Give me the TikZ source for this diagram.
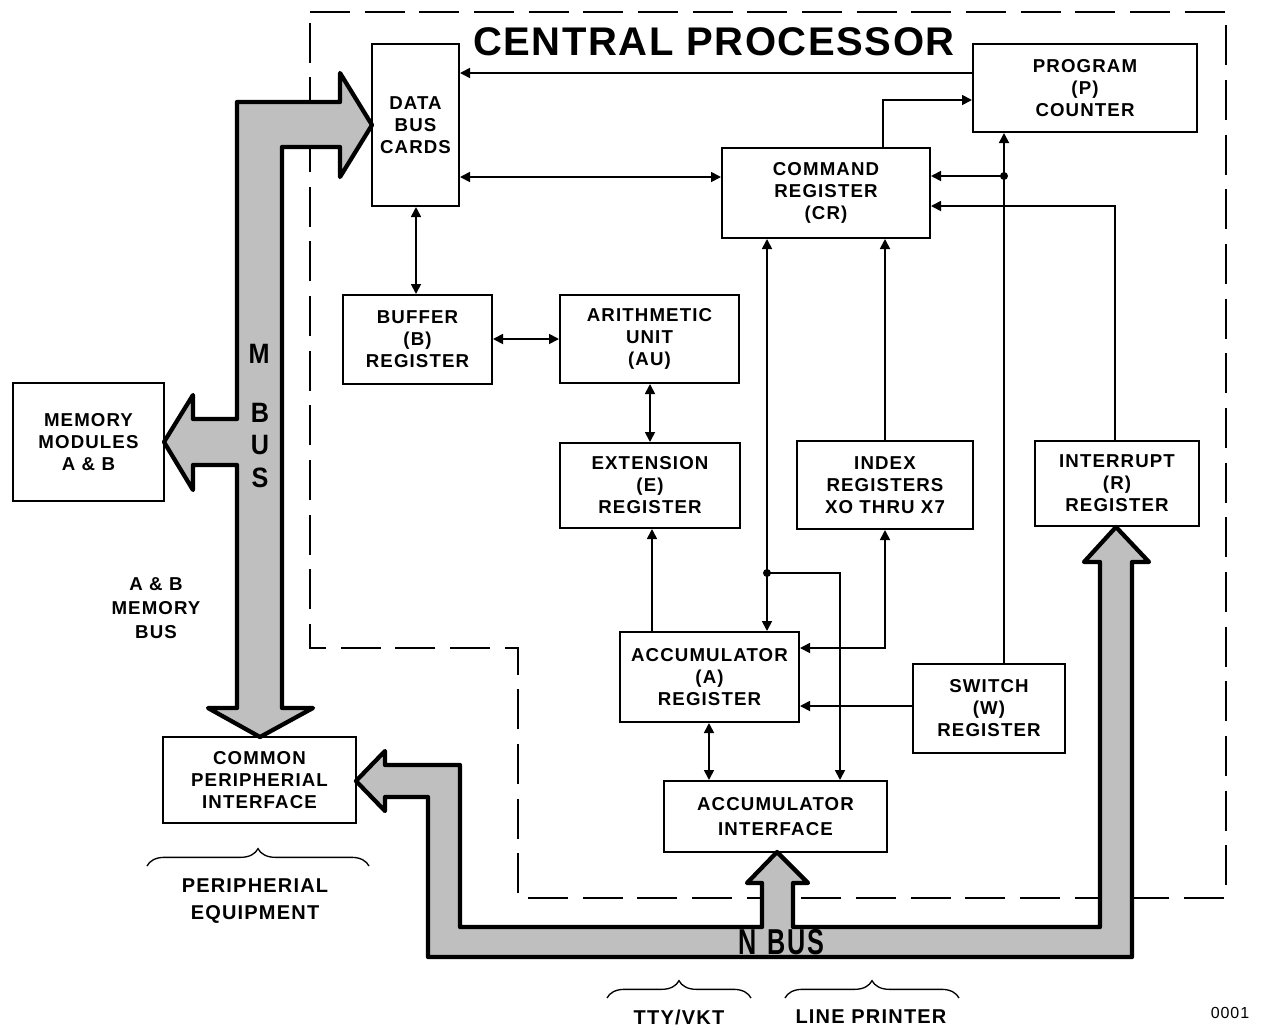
\documentclass[tikz,border=0pt]{standalone}
\usepackage{fontspec}
\setmainfont{Liberation Sans}[LetterSpace=6]
\usetikzlibrary{arrows.meta,decorations.pathreplacing}
\begin{document}
\begin{tikzpicture}[x=0.75pt,y=-0.75pt,
  bx/.style={draw, line width=1.5pt, inner sep=0pt, align=center,
    font=\bfseries\fontsize{14}{16.5}\selectfont},
  ln/.style={line width=1.3pt},
  ar/.style={ln, -{Triangle[length=7.5pt,width=7.5pt]}},
  dar/.style={ln, {Triangle[length=7.5pt,width=7.5pt]}-{Triangle[length=7.5pt,width=7.5pt]}},
  bus/.style={line width=3.2pt, line join=round, fill=black!25},
  brc/.style={line width=1pt, decorate, decoration={brace, amplitude=13pt}},
  lbl/.style={font=\bfseries\fontsize{15}{20.5}\selectfont, align=center, inner sep=0pt},
  busl/.style={font=\bfseries\fontsize{21}{21}\selectfont, inner sep=0pt, xscale=0.9},
  bord/.style={line width=2.2pt, dash pattern=on 30pt off 11pt}
]
\useasboundingbox (0,0) rectangle (1261,1029);

% central processor border
\draw[bord] (310,12) -- (1226,12) -- (1226,898) -- (518,898) -- (518,648) -- (310,648) -- cycle;
\node[font=\bfseries\fontsize{30}{34}\selectfont\addfontfeature{LetterSpace=4}, inner sep=0pt] (title) at (714,42) {CENTRAL PROCESSOR};

% boxes
\node[bx, minimum width=65.25pt, minimum height=121.5pt] (dbc) at (415.5,125) {DATA\\BUS\\CARDS};
\node[bx, minimum width=168pt, minimum height=66pt] (pc) at (1085,88) {PROGRAM\\(P)\\COUNTER};
\node[bx, minimum width=156pt, minimum height=67.5pt] (cr) at (826,193) {COMMAND\\REGISTER\\(CR)};
\node[bx, minimum width=111.75pt, minimum height=66.75pt] (buf) at (417.5,339.5) {BUFFER\\(B)\\REGISTER};
\node[bx, minimum width=134.25pt, minimum height=66pt] (au) at (649.5,339) {ARITHMETIC\\UNIT\\(AU)};
\node[bx, minimum width=135pt, minimum height=63.75pt] (ext) at (650,485.5) {EXTENSION\\(E)\\REGISTER};
\node[bx, minimum width=132pt, minimum height=66pt] (ix) at (885,485) {INDEX\\REGISTERS\\XO THRU X7};
\node[bx, minimum width=123pt, minimum height=63.75pt] (ir) at (1117,483.5) {INTERRUPT\\(R)\\REGISTER};
\node[bx, minimum width=134.25pt, minimum height=67.5pt] (ar) at (709.5,677) {ACCUMULATOR\\(A)\\REGISTER};
\node[bx, minimum width=114pt, minimum height=66.75pt] (sw) at (989,708.5) {SWITCH\\(W)\\REGISTER};
\node[bx, minimum width=167.25pt, minimum height=53.25pt, font=\bfseries\fontsize{14}{19}\selectfont] (ai) at (775.5,816.5) {ACCUMULATOR\\INTERFACE};
\node[bx, minimum width=144.75pt, minimum height=64.5pt] (cpi) at (259.5,780) {COMMON\\PERIPHERIAL\\INTERFACE};
\node[bx, minimum width=113.25pt, minimum height=88.5pt] (mem) at (88.5,442) {MEMORY\\MODULES\\A \& B};

% connectors
\draw[ar] (pc.west |- 0,73) -- (dbc.east |- 0,73);
\draw[dar] (dbc.east |- 0,177) -- (cr.west |- 0,177);
\draw[dar] (dbc.south -| 416,0) -- (buf.north -| 416,0);
\draw[dar] (buf.east |- 0,339) -- (au.west |- 0,339);
\draw[dar] (au.south -| 650,0) -- (ext.north -| 650,0);
\draw[ar] (cr.north -| 883,0) |- (pc.west |- 0,100);
\coordinate (j1) at (1004,176);
\draw[ar] (sw.north -| 1004,0) -- (pc.south -| 1004,0);
\draw[ar] (j1) -- (cr.east |- j1);
\fill (j1) circle (3pt);
\draw[ar] (ir.north -| 1115,0) |- (cr.east |- 0,206);
\coordinate (j2) at (767,573);
\draw[dar] (cr.south -| 767,0) -- (ar.north -| 767,0);
\draw[ar] (j2) -| (ai.north -| 840,0);
\fill (j2) circle (3pt);
\draw[ar] (ix.north -| 885,0) -- (cr.south -| 885,0);
\draw[dar] (ar.east |- 0,648) -| (ix.south -| 885,0);
\draw[ar] (ar.north -| 652,0) -- (ext.south -| 652,0);
\draw[ar] (sw.west |- 0,706) -- (ar.east |- 0,706);
\draw[dar] (ar.south -| 709,0) -- (ai.north -| 709,0);

% M bus
\draw[bus] (237,102) -- (340,102) -- (340,73) -- (372,125) -- (340,177) -- (340,147)
  -- (282,147) -- (282,708) -- (313,708) -- (260,737) -- (208,708) -- (237,708)
  -- (237,465) -- (193,465) -- (193,490) -- (164,442) -- (193,395) -- (193,419)
  -- (237,419) -- cycle;
\node[busl] (bm) at (259,354) {M};
\node[busl] (bb) at (260,413) {B};
\node[busl] (bu) at (260,445) {U};
\node[busl] (bs) at (260,478) {S};

% N bus
\draw[bus] (356,781) -- (385,751) -- (385,765) -- (460,765) -- (460,927) -- (762,927)
  -- (762,883) -- (747,883) -- (777,852) -- (808,883) -- (793,883) -- (793,927)
  -- (1100,927) -- (1100,562) -- (1084,562) -- (1116,527) -- (1149,562) -- (1132,562)
  -- (1132,957) -- (428,957) -- (428,797) -- (385,797) -- (385,811) -- cycle;
\node[font=\bfseries\fontsize{27}{27}\selectfont, xscale=0.7, inner sep=0pt] (nb) at (781,942) {N\hspace{0.45em}BUS};

% labels
\node[lbl, font=\bfseries\fontsize{14}{18}\selectfont] (abmb) at (156,608) {A \& B\\MEMORY\\BUS};
\draw[brc] (147,866) -- (369,866);
\node[lbl] (pe) at (255,901) {PERIPHERIAL\\EQUIPMENT};
\draw[brc] (607,998) -- (751,998);
\node[lbl] (tty) at (679,1017) {TTY/VKT};
\draw[brc] (785,998) -- (959,998);
\node[lbl] (lp) at (871,1017) {LINE PRINTER};
\node[font=\fontsize{12}{12}\selectfont, inner sep=0pt] (num) at (1230,1013) {0001};
\end{tikzpicture}
\end{document}
